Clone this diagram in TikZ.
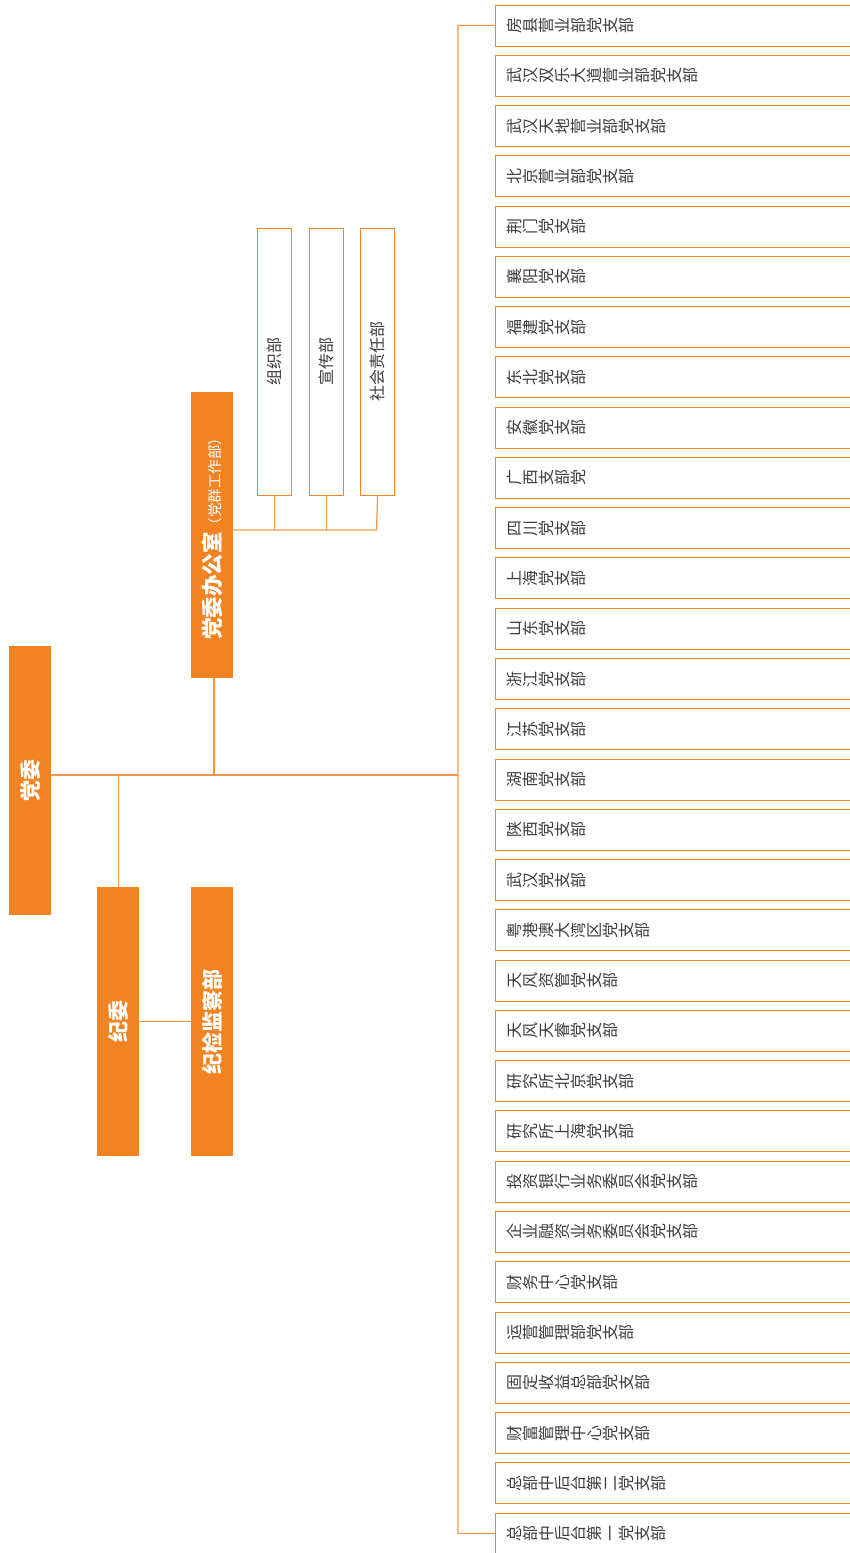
\documentclass[tikz,border=0pt]{standalone}
\usepackage{fontspec}
\setmainfont{Noto Sans CJK SC}
\definecolor{org}{HTML}{F28322}
\definecolor{orgline}{HTML}{F3964A}
\definecolor{txtgray}{HTML}{3C3C3C}
\newcommand\rchars[1]{\rcharsloop#1\relax}
\def\rcharsloop#1{\ifx\relax#1\else\rotatebox[origin=c]{90}{\makebox[1em]{\rule[-0.12em]{0pt}{1em}#1}}\expandafter\rcharsloop\fi}
\tikzset{
  ofill/.style={fill=org, draw=none, minimum width=42pt, inner sep=0pt, text=white, anchor=north west},
  wbox/.style={draw=org, line width=1pt, fill=white, minimum width=33.5pt, minimum height=267.5pt, inner sep=0pt, text=txtgray, anchor=north west},
  rbox/.style={draw=org, line width=1pt, fill=white, anchor=west, minimum height=41pt, text width=338pt, inner xsep=11pt, inner ysep=0pt, align=left, text=txtgray},
  link/.style={draw=orgline, line width=1.2pt},
  big/.style={font=\fontsize{21}{21}\selectfont\bfseries},
  mid/.style={font=\fontsize{16}{16}\selectfont},
}
\begin{document}
\begin{tikzpicture}[x=1pt,y=-1pt]
\useasboundingbox (0,0) rectangle (850,1553);
\clip (0,0) rectangle (850,1553);
% left column
\node[ofill, minimum height=269pt, big] (dw) at (9,646) {\rotatebox{90}{党委}};
\node[ofill, minimum height=286pt] (bgs) at (191,392) {\rotatebox{90}{{\fontsize{21.5}{21.5}\selectfont\bfseries 党委办公室}{\fontsize{14.5}{14.5}\selectfont （党群工作部）}}};
\node[ofill, minimum height=269pt, big] (jw) at (97,887) {\rotatebox{90}{纪委}};
\node[ofill, minimum height=269pt, big] (jj) at (191,887) {\rotatebox{90}{纪检监察部}};
% small departments
\node[wbox, mid] (zz) at (257.3,227.5) {\rotatebox{90}{组织部}};
\node[wbox, mid] (xc) at (309,227.5) {\rotatebox{90}{宣传部}};
\node[wbox, mid] (sh) at (360.3,227.5) {\rotatebox{90}{社会责任部}};
% right boxes
\foreach [count=\i from 0] \t in {房县营业部党支部, 武汉双乐大道营业部党支部, 武汉天地营业部党支部, 北京营业部党支部, 荆门党支部, 襄阳党支部, 福建党支部, 东北党支部, 安徽党支部, 广西支部党, 四川党支部, 上海党支部, 山东党支部, 浙江党支部, 江苏党支部, 湖南党支部, 陕西党支部, 武汉党支部, 粤港澳大湾区党支部, 天风资管党支部, 天风天睿党支部, 研究所北京党支部, 研究所上海党支部, 投资银行业务委员会党支部, 企业融资业务委员会党支部, 财务中心党支部, 运营管理部党支部, 固定收益总部党支部, 财富管理中心党支部, 总部中后台第二党支部, 总部中后台第一党支部}
{
  \node[rbox, font=\fontsize{16}{16}\selectfont] (b\i) at (495, 25.5+\i*50.27) {\expandafter\rchars\expandafter{\t}};
}
% connectors
\coordinate (mj) at (458,775);
\coordinate (bt) at (458,25.5);
\coordinate (bb) at (458,1533.6);
\coordinate (sj) at (376.5,530);
\draw[link] (dw.east |- mj) -- (mj);
\draw[link] (b0.west) -- (bt) -- (bb) -- (b30.west);
\draw[link] (bgs.south -| 214,0) -- (mj -| 214,0);
\draw[link] (jw.north) -- (jw.north |- mj);
\draw[link] (jw.east) -- (jj.west);
\draw[link] (bgs.east |- sj) -- (sj) -- (sh.south);
\draw[link] (zz.south) -- (zz.south |- sj);
\draw[link] (xc.south) -- (xc.south |- sj);
\end{tikzpicture}
\end{document}
